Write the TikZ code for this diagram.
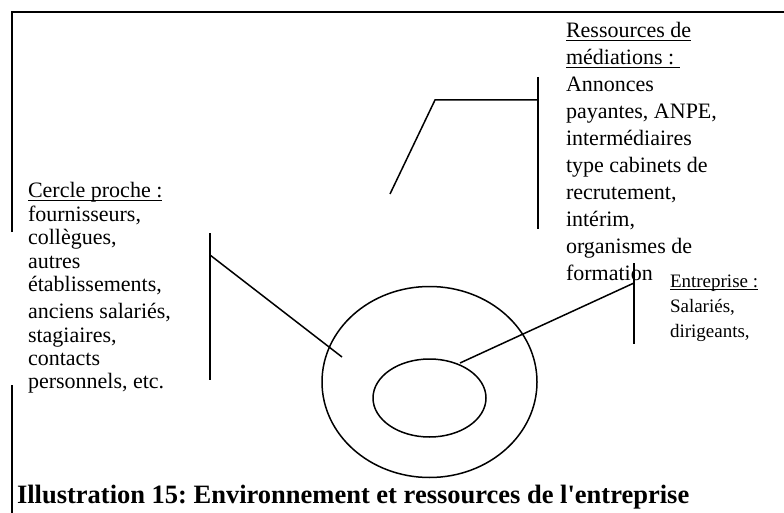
\documentclass[tikz,border=0pt]{standalone}
\usepackage{fontspec}
\setmainfont{Liberation Serif}[Ligatures=TeXOff]
\usetikzlibrary{shapes.geometric}
\frenchspacing
\newcommand\myul[1]{\setbox0\hbox{#1}\rlap{\rule[-2.6pt]{\wd0}{0.9pt}}\box0}
\newcommand\txtblock[2]{\vtop{\baselineskip=#1\lineskiplimit=-100pt\lineskip=0pt #2}}
\tikzset{
  txt/.style={anchor=base west, inner sep=0pt, outer sep=0pt},
  bigtxt/.style={txt, font=\fontsize{22}{27}\selectfont},
  smalltxt/.style={txt, font=\fontsize{19}{25}\selectfont},
  ell/.style={draw, ellipse, line width=1.5pt, inner sep=0pt},
  conn/.style={line width=1.5pt},
  bar/.style={line width=1.8pt},
  frame/.style={line width=1.3pt}
}
\begin{document}
\begin{tikzpicture}[x=1pt,y=-1pt]
\useasboundingbox (0,0) rectangle (784,513);
% frame
\coordinate (f1) at (12,12);
\coordinate (f2) at (784,12);
\coordinate (f3) at (12,232);
\coordinate (f4) at (12,385);
\coordinate (f5) at (12,513);
\draw[frame] (f3) -- (f1) -- (f2);
\draw[frame] (f4) -- (f5);
% texts
\node[bigtxt] (med) at (566,38) {\txtblock{27pt}{%
  \hbox{\myul{Ressources de}}
  \hbox{\myul{médiations :~}}
  \hbox{Annonces}
  \hbox{payantes, ANPE,}
  \hbox{intermédiaires}
  \hbox{type cabinets de}
  \hbox{recrutement,}
  \hbox{intérim,}
  \hbox{organismes de}
  \hbox{formation}}};
\node[bigtxt] (cercle) at (28,198) {\txtblock{23.4pt}{%
  \hbox{\myul{Cercle proche :}}
  \hbox{fournisseurs,}
  \hbox{collègues,}
  \hbox{autres}
  \hbox{établissements,}
  \vskip 3.6pt
  \hbox{anciens salariés,}
  \hbox{stagiaires,}
  \hbox{contacts}
  \hbox{personnels, etc.}}};
\node[smalltxt] (entr) at (670,287) {\txtblock{25pt}{%
  \hbox{\myul{Entreprise :}}
  \hbox{Salariés,}
  \hbox{dirigeants,}}};
\node[txt, font=\bfseries\fontsize{26.5}{30}\selectfont] (cap) at (17,503)
  {Illustration 15: Environnement et ressources de l'entreprise};
% ellipses
\node[ell, minimum width=215pt, minimum height=191pt] (outer) at (429.5,382) {};
\node[ell, minimum width=113pt, minimum height=78pt] (inner) at (429.5,398) {};
% mediation connector
\coordinate (mbt) at (538,77);
\coordinate (mbb) at (538,229);
\coordinate (mj) at (538,100);
\coordinate (m2) at (435,100);
\coordinate (m1) at (390,194);
\draw[bar] (mbt) -- (mbb);
\draw[conn] (m1) -- (m2) -- (mj);
% cercle connector
\coordinate (cbt) at (210,233);
\coordinate (cbb) at (210,380);
\coordinate (cj) at (210,255);
\coordinate (ce) at (342,357);
\draw[bar] (cbt) -- (cbb);
\draw[conn] (cj) -- (ce);
% entreprise connector
\coordinate (ebt) at (634,263);
\coordinate (ebb) at (634,344);
\coordinate (ej) at (634,283);
\coordinate (ee) at (460,363);
\draw[bar] (ebt) -- (ebb);
\draw[conn] (ee) -- (ej);
\end{tikzpicture}
\end{document}
